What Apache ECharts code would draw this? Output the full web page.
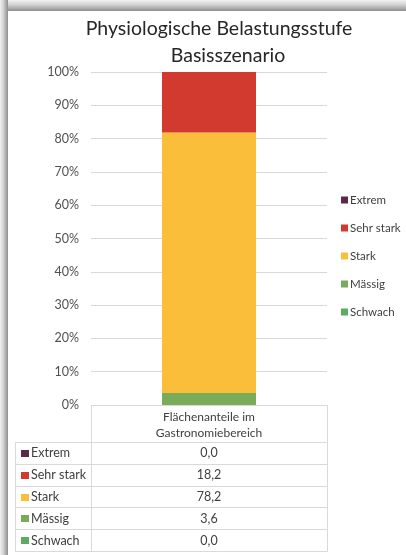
<!DOCTYPE html>
<html>
<head>
<meta charset="utf-8">
<script src="https://cdn.jsdelivr.net/npm/echarts@6/dist/echarts.min.js"></script>
<style>
  html, body { margin: 0; padding: 0; background: #ffffff; }
  #chart { width: 406px; height: 555px; }
</style>
</head>
<body>
<div id="chart"></div>
<script>
// ---- data ----
const categories = ['Flächenanteile im\nGastronomiebereich'];
const levels = ['Extrem', 'Sehr stark', 'Stark', 'Mässig', 'Schwach'];
const values = [0.0, 18.2, 78.2, 3.6, 0.0];
const titleLines = ['Physiologische Belastungsstufe', 'Basisszenario'];

// ---- styles ----
const levelColors = ['#5b2a4b', '#d2392f', '#fbbe3a', '#7aab5b', '#5cab62'];
const FONT = 'Lato, "Open Sans", sans-serif';
const TEXT = '#404040';
const LINE = '#d9d9d9';
const TABLE_LEFT = 15;

const chart = echarts.init(document.getElementById('chart'), null, { renderer: 'canvas' });

// bars: stacked bottom-up (reverse of legend order)
const barSeries = levels.map((name, i) => ({
  name: name,
  type: 'bar',
  stack: 'total',
  xAxisIndex: 0,
  yAxisIndex: 0,
  barWidth: 94,
  itemStyle: { color: levelColors[i] },
  emphasis: { disabled: true },
  data: [values[i]],
  z: 2
})).reverse();

const tableData = levels.map((name, i) => [0, i, values[i]]);

const option = {
  animation: false,
  backgroundColor: '#ffffff',
  textStyle: { fontFamily: FONT },
  graphic: [
    {
      type: 'rect', left: 0, top: 0, z: 100,
      shape: { width: 406, height: 11 },
      style: { fill: new echarts.graphic.LinearGradient(0, 0, 0, 1, [
        { offset: 0, color: '#f2f2f2' },
        { offset: 0.45, color: '#cfcfcf' },
        { offset: 1, color: '#8e8e8e' }
      ]) }
    },
    {
      type: 'rect', left: 0, top: 0, z: 100,
      shape: { width: 8, height: 555 },
      style: { fill: new echarts.graphic.LinearGradient(0, 0, 1, 0, [
        { offset: 0, color: '#f2f2f2' },
        { offset: 0.45, color: '#cfcfcf' },
        { offset: 1, color: '#8e8e8e' }
      ]) }
    }
  ],
  title: [
    {
      text: titleLines[0], left: 214, top: 14, textAlign: 'center',
      textStyle: { fontFamily: FONT, fontSize: 19.5, fontWeight: 'normal', color: '#262626' }
    },
    {
      text: titleLines[1], left: 223, top: 41, textAlign: 'center',
      textStyle: { fontFamily: FONT, fontSize: 19.5, fontWeight: 'normal', color: '#262626' }
    }
  ],
  legend: {
    orient: 'vertical',
    left: 336,
    top: 189,
    itemWidth: 7,
    itemHeight: 7,
    itemGap: 16,
    icon: 'rect',
    data: levels,
    selectedMode: false,
    textStyle: { fontFamily: FONT, fontSize: 11.5, color: TEXT, padding: [0, 0, 0, -3] }
  },
  grid: [
    { left: 91, right: 79, top: 72, bottom: 150, containLabel: false },
    { left: 91, right: 79, top: 442, bottom: 4, containLabel: false }
  ],
  xAxis: [
    {
      type: 'category',
      gridIndex: 0,
      data: categories,
      boundaryGap: true,
      axisLine: { show: true, lineStyle: { color: LINE, width: 1 } },
      axisTick: { show: true, length: 37, lineStyle: { color: LINE, width: 1 } },
      axisLabel: {
        margin: 4,
        fontFamily: FONT, fontSize: 12, color: TEXT, lineHeight: 16
      }
    },
    {
      type: 'category',
      gridIndex: 1,
      data: categories,
      show: false
    }
  ],
  yAxis: [
    {
      type: 'value',
      gridIndex: 0,
      min: 0,
      max: 100,
      interval: 10,
      axisLine: { show: false },
      axisTick: { show: false },
      splitLine: { show: true, lineStyle: { color: LINE, width: 1 } },
      axisLabel: {
        formatter: '{value}%',
        margin: 12,
        fontFamily: FONT, fontSize: 12.5, color: '#505050'
      }
    },
    {
      type: 'category',
      gridIndex: 1,
      data: levels,
      inverse: true,
      show: false
    }
  ],
  series: barSeries.concat([
    {
      type: 'custom',
      name: 'table',
      xAxisIndex: 1,
      yAxisIndex: 1,
      encode: { x: 0, y: 1 },
      clip: false,
      silent: true,
      data: tableData,
      renderItem: function (params, api) {
        const idx = api.value(1);
        const c = api.coord([0, idx]);
        const sz = api.size([0, 1]);
        const cs = params.coordSys;
        const h = sz[1];
        const top = Math.round(c[1] - h / 2);
        const bot = Math.round(c[1] + h / 2);
        const v = api.value(2);
        const right = Math.round(cs.x + cs.width);
        const mid = Math.round(cs.x);
        return {
          type: 'group',
          children: [
            { type: 'rect', shape: { x: TABLE_LEFT + 0.5, y: top + 0.5, width: mid - TABLE_LEFT, height: bot - top },
              style: { fill: 'none', stroke: LINE, lineWidth: 1 } },
            { type: 'rect', shape: { x: mid + 0.5, y: top + 0.5, width: right - mid, height: bot - top },
              style: { fill: 'none', stroke: LINE, lineWidth: 1 } },
            { type: 'rect', shape: { x: TABLE_LEFT + 6, y: Math.round(c[1]) - 3, width: 8, height: 7 },
              style: { fill: levelColors[idx] } },
            { type: 'text', style: { x: TABLE_LEFT + 16, y: c[1] + 0.5, text: levels[idx],
              verticalAlign: 'middle', align: 'left', font: '12.5px ' + FONT, fill: TEXT } },
            { type: 'text', style: { x: c[0], y: c[1] + 0.5, text: v.toFixed(1).replace('.', ','),
              verticalAlign: 'middle', align: 'center', font: '12.5px ' + FONT, fill: TEXT } }
          ]
        };
      }
    }
  ])
};

chart.setOption(option);
</script>
</body>
</html>
